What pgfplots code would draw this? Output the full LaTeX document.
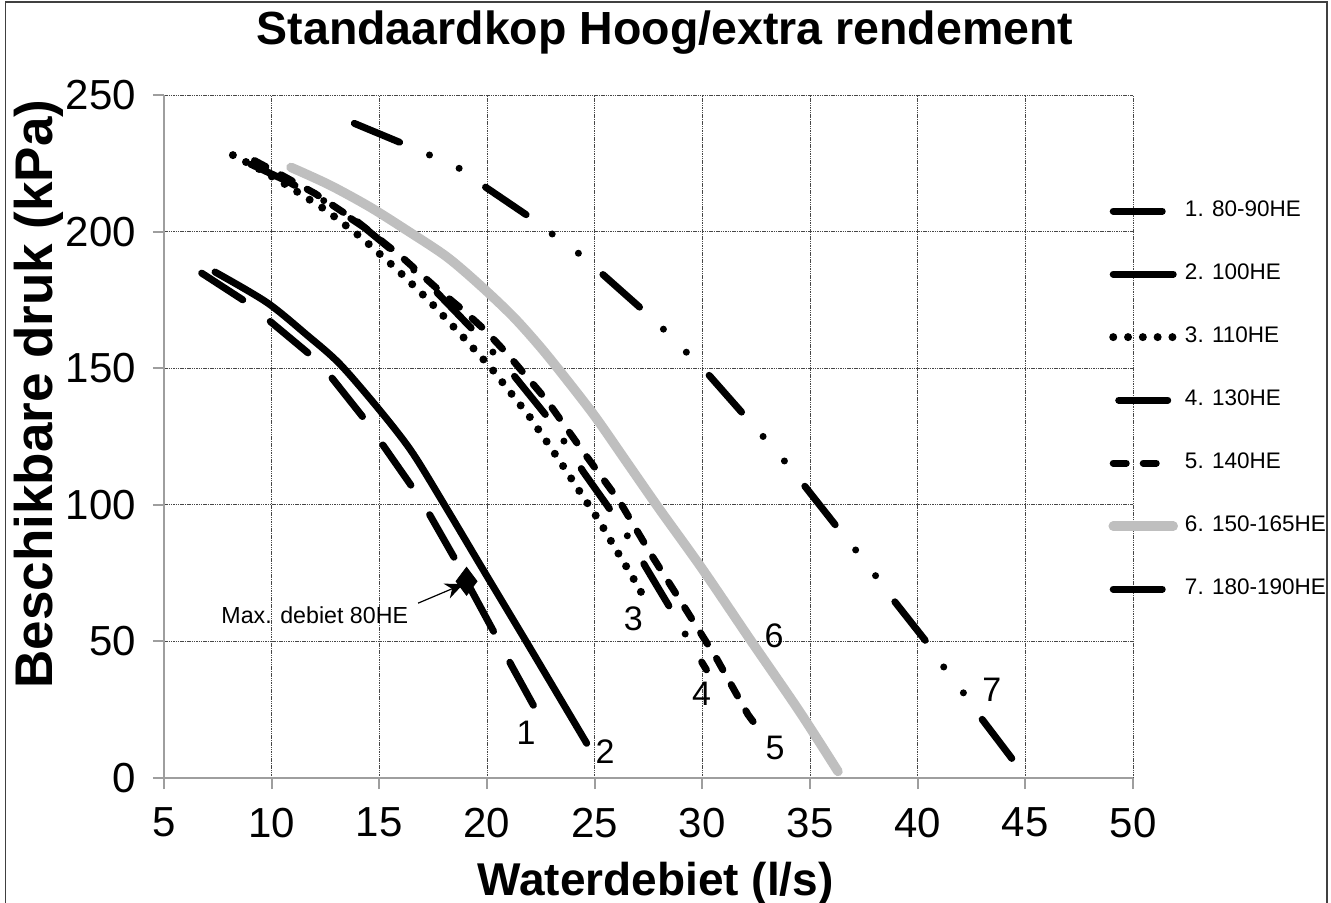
\documentclass[border=0pt]{standalone}
\usepackage{pgfplots}
\pgfplotsset{compat=1.18}
\usepackage{fontspec}
\setmainfont{Liberation Sans}
\usetikzlibrary{arrows.meta}

% curve styles
\tikzset{
  c1/.style={black, line width=3.5pt, line cap=round, dash pattern=on 24.5pt off 17.5pt},
  c2/.style={black, line width=3.5pt, line cap=round},
  c3/.style={black, line width=4pt, line cap=round, dash pattern=on 0pt off 7.4pt},
  c4/.style={black, line width=3.5pt, line cap=round, dash pattern=on 24.5pt off 16.25pt on 0pt off 16.25pt},
  c5/.style={black, line width=3.5pt, line cap=round, dash pattern=on 6.5pt off 8.5pt},
  c6/.style={black!25, line width=4.75pt, line cap=round},
  c7/.style={black, line width=3.5pt, line cap=round, dash pattern=on 24.5pt off 16.25pt on 0pt off 16.25pt on 0pt off 16.25pt},
}

\begin{document}
\begin{tikzpicture}
\useasboundingbox (0,0) rectangle (665.5pt,451pt);
% outer frame
\draw[black!75, line width=0.8pt] (2.75pt,-5pt) -- (2.75pt,450pt) -- (663.5pt,450pt) -- (663.5pt,-5pt);

\begin{axis}[
  at={(82pt,62pt)}, anchor=south west,
  width=484.5pt, height=341.5pt, scale only axis,
  xmin=5, xmax=50, ymin=0, ymax=250,
  xtick={5,10,...,50}, ytick={0,50,...,250},
  axis x line=bottom, axis y line=left,
  axis line style={-, draw=black!38, line width=1pt},
  every outer x axis line/.append style={-},
  every outer y axis line/.append style={-},
  tick align=outside, major tick length=5.5pt,
  tick style={draw=black!38, line width=1pt},
  grid=major,
  major grid style={draw=black!72, line width=0.5pt, dash pattern=on 0.75pt off 0.4pt},
  tick label style={font=\fontsize{21}{24}\selectfont},
  xticklabel style={yshift=-6pt},
  yticklabel style={xshift=-5pt},
  /pgf/number format/assume math mode=true,
  legend cell align=left,
  legend style={draw=none, fill=none, inner sep=0pt, outer sep=0pt,
    at={(0.9747,0.8454)}, anchor=north west,
    row sep=21pt, column sep=3.5pt,
    nodes={inner sep=0pt, text height=8pt, text depth=2.5pt, anchor=west},
    font=\fontsize{11.25}{13}\selectfont},
  legend image code/.code={\draw[#1] (0pt,0pt) -- (30pt,0pt);},
]
% 1. 80-90HE
\addplot[c1] coordinates {
 (6.75,184.8) (8.84,174.1) (9.92,167.2) (11.93,154) (12.79,146.5) (14.41,130.4)
 (15.19,121.6) (16.66,105) (17.35,96.2) (18.67,78) (19.2,69.8) (20.53,50.4)
 (21.15,41) (22.38,23.4)};
\addlegendentry{1. 80-90HE}
% 2. 100HE
\addplot[c2, smooth, tension=0.5] coordinates {
 (7.37,185.2) (9.77,174.1) (11.63,162.2) (13.17,151.5) (15.03,134.5) (16.5,119.5)
 (18.0,100.3) (19.83,76.1) (21.84,49.7) (24.63,12.7)};
\addlegendentry{2. 100HE}
% 3. 110HE
\addplot[c3] coordinates {
 (8.2,228) (9.4,223) (10.7,217) (12.5,208) (14.2,197.6) (15.8,186.3) (17.3,174.8)
 (18.8,162.2) (20.2,150) (21.1,141) (22,132) (22.8,122.8) (23.6,113.4) (24.4,103.7)
 (25.2,94.3) (25.9,84.8) (26.7,74.4) (27.4,64.6)};
\addlegendentry{3. 110HE}
% 4. 130HE
\addplot[c4, dash phase=54.25pt] coordinates {
 (8.8,225.5) (10.7,218.5) (12.5,211) (14.3,201.5) (16,190.5) (17.64,178) (19.5,162.8)
 (21.28,147) (22.91,131.1) (23.72,121.6) (24.46,112.2) (26,95.1) (26.73,86)
 (27.4,76.8) (28.79,58.5) (29.44,49.4) (30.19,39.6)};
\addlegendentry{4. 130HE}
% 5. 140HE
\addplot[c5] coordinates {
 (9.2,226) (10.5,220.5) (12,214) (14,203.5) (16,191) (17.7,179) (18.88,171.3)
 (19.9,164) (20.98,154.9) (22.76,138.4) (24.46,119.5) (26.16,101.2) (27.63,81.7)
 (29.1,63.4) (30.65,43.9) (32.12,23.2) (32.58,18.3)};
\addlegendentry{5. 140HE}
% 6. 150-165HE
\addplot[c6, smooth, tension=0.5] coordinates {
 (10.9,223.5) (12.68,217.1) (14.54,209.1) (16.25,200.6) (18.11,190.9) (19.66,180.5)
 (21.21,168.9) (22.45,158) (23.53,147.5) (25,132.5) (26.5,115.5)
 (28,98.5) (30,76.5) (32.28,50) (34.5,24.5) (36.3,2.4)};
\addlegendentry{6. 150-165HE}
% 7. 180-190HE
\addplot[c7] coordinates {
 (13.84,239.6) (16.25,231.7) (17.52,227.4) (18.81,222.8) (19.89,216.5) (22.06,204.9)
 (23.15,198.4) (24.31,191.7) (25.31,184.8) (27.25,171.2) (28.3,163.5) (29.29,155.6)
 (30.26,147.9) (31.97,132.6) (32.89,124.4) (33.85,115.7) (34.71,107.3) (36.3,91.4)
 (37.2,82.7) (38.08,73.7) (38.89,65) (40.48,49.1) (41.3,39.6) (42.18,30.6)
 (43.0,21.4) (44.6,4.8)};
\addlegendentry{7. 180-190HE}

% maximum flow point of the 80HE unit
\addplot[only marks, mark=diamond*, mark size=7pt, black, forget plot] coordinates {(19.05,72)};
\draw[-{Stealth[length=9pt,width=8pt]}, line width=0.6pt, black]
  (axis cs:16.8,64) -- (axis cs:18.9,71);
\node[anchor=base west, inner sep=0pt, font=\fontsize{11.6}{13}\selectfont]
  at (axis cs:7.65,56.5) {Max. debiet 80HE};

% curve numbers
\begin{scope}[every node/.style={font=\fontsize{17}{20}\selectfont, inner sep=0pt}]
\node at (axis cs:21.81,16.4) {1};
\node at (axis cs:25.48,9.6) {2};
\node at (axis cs:26.8,58.4) {3};
\node at (axis cs:29.97,31) {4};
\node at (axis cs:33.38,10.9) {5};
\node at (axis cs:33.33,52) {6};
\node at (axis cs:43.44,32.2) {7};
\end{scope}
\end{axis}

% titles
\node[anchor=base, inner sep=0pt, font=\fontsize{23.25}{28}\selectfont\bfseries]
  at (332.5pt,428.5pt) {Standaardkop Hoog/extra rendement};
\node[anchor=base, inner sep=0pt, font=\fontsize{23}{28}\selectfont\bfseries]
  at (327.75pt,3.5pt) {Waterdebiet (l/s)};
\node[anchor=base, rotate=90, inner sep=0pt, font=\fontsize{26.5}{32}\selectfont\bfseries]
  at (26pt,254pt) {Beschikbare druk (kPa)};
\end{tikzpicture}
\end{document}
